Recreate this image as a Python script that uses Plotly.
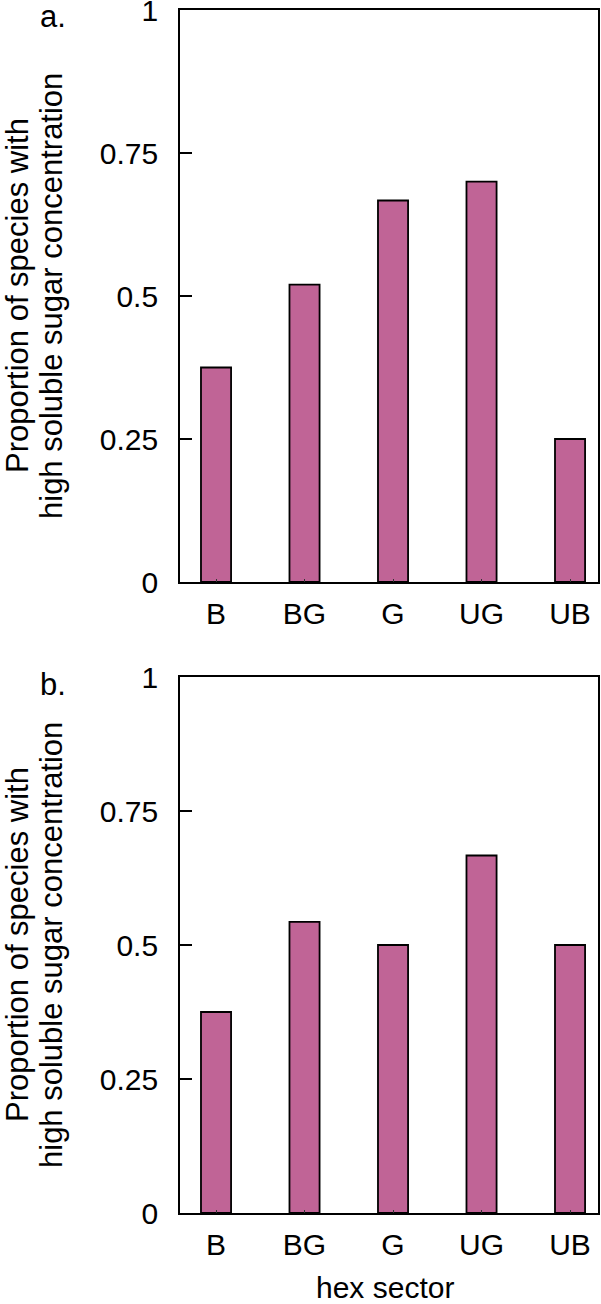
import plotly.graph_objects as go

categories = ["B", "BG", "G", "UG", "UB"]
values_a = [0.375, 0.52, 0.667, 0.70, 0.25]
values_b = [0.375, 0.543, 0.50, 0.667, 0.50]
ytick_vals = [0, 0.25, 0.5, 0.75, 1]
ytick_text = ["0", "0.25", "0.5", "0.75", "1"]
ytitle_lines = ["Proportion of species with", "high soluble sugar concentration"]
xtitle = "hex sector"
panel_labels = ["a.", "b."]

W, H = 601, 1304
FONT = "Liberation Sans, Arial, Helvetica, sans-serif"
BAR_FILL = "#C06496"

def px_x(x):
    return x / W

def px_y(y):
    return 1 - y / H

# pixel geometry of panels
XL, XR = 180, 598
PA = (10, 582)
PB = (677, 1213)

fig = go.Figure()
fig.add_trace(go.Bar(x=categories, y=values_a, xaxis="x", yaxis="y",
                     marker=dict(color=BAR_FILL, line=dict(color="black", width=1.8)),
                     width=0.34, showlegend=False))
fig.add_trace(go.Bar(x=categories, y=values_b, xaxis="x2", yaxis="y2",
                     marker=dict(color=BAR_FILL, line=dict(color="black", width=1.8)),
                     width=0.34, showlegend=False))

xax = dict(domain=[px_x(XL), px_x(XR)], range=[-0.407, 4.316], showline=True,
           linecolor="black", linewidth=1.8, mirror=True, ticks="inside", ticklen=3,
           tickwidth=1, tickcolor="#333",
           tickfont=dict(family=FONT, size=30, color="black"), ticklabelstandoff=4,
           ticklabeloverflow="allow",
           showgrid=False, zeroline=False, automargin=False, fixedrange=True)
yax = dict(range=[0, 1], tickvals=ytick_vals, ticktext=ytick_text, showline=True,
           linecolor="black", linewidth=1.8, mirror=True, ticks="inside", ticklen=12,
           tickwidth=1.8, tickcolor="black",
           tickfont=dict(family=FONT, size=30, color="black"), ticklabelstandoff=14,
           ticklabeloverflow="allow",
           showgrid=False, zeroline=False, automargin=False, fixedrange=True)

layout = dict(
    width=W, height=H, margin=dict(l=0, r=0, t=0, b=0),
    paper_bgcolor="white", plot_bgcolor="white",
    font=dict(family=FONT, color="black"),
    xaxis=dict(xax, anchor="y"),
    yaxis=dict(yax, domain=[px_y(PA[1]), px_y(PA[0])], anchor="x"),
    xaxis2=dict(xax, anchor="y2"),
    yaxis2=dict(yax, domain=[px_y(PB[1]), px_y(PB[0])], anchor="x2"),
)
fig.update_layout(**layout)

annots = []
for (top, bot), lab in zip([PA, PB], panel_labels):
    mid = (top + bot) / 2
    annots.append(dict(text=ytitle_lines[0], x=px_x(17), y=px_y(mid), xref="paper", yref="paper",
                       xanchor="center", yanchor="middle", textangle=-90, showarrow=False,
                       font=dict(family=FONT, size=31, color="black")))
    annots.append(dict(text=ytitle_lines[1], x=px_x(51), y=px_y(mid), xref="paper", yref="paper",
                       xanchor="center", yanchor="middle", textangle=-90, showarrow=False,
                       font=dict(family=FONT, size=31, color="black")))
    annots.append(dict(text=lab, x=px_x(38), y=px_y(top + 7), xref="paper", yref="paper",
                       xanchor="left", yanchor="middle", showarrow=False,
                       font=dict(family=FONT, size=31, color="black")))
annots.append(dict(text=xtitle, x=px_x((XL + XR) / 2 - 4), y=px_y(1287), xref="paper", yref="paper",
                   xanchor="center", yanchor="middle", showarrow=False,
                   font=dict(family=FONT, size=30, color="black")))
fig.update_layout(annotations=annots)

fig.write_html("out.html", config={"displayModeBar": False},
               post_script="document.body.style.margin='0';document.body.style.overflow='hidden';")
